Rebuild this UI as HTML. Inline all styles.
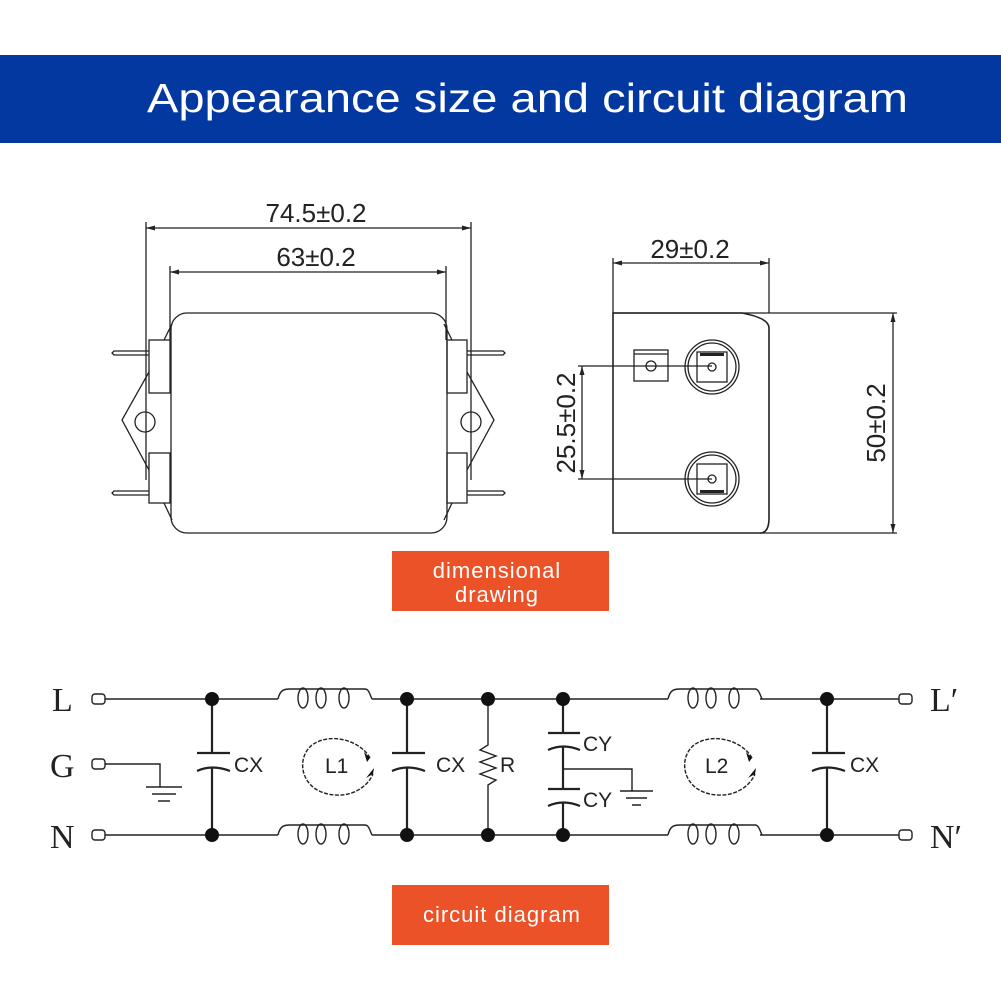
<!DOCTYPE html>
<html><head><meta charset="utf-8"><style>
html,body{margin:0;padding:0;background:#fff}
svg{display:block}
</style></head><body>
<svg width="1001" height="1001" viewBox="0 0 1001 1001" xmlns="http://www.w3.org/2000/svg">
<rect x="0" y="0" width="1001" height="1001" fill="#fff"/>
<rect x="0" y="55" width="1001" height="88" fill="#0238a0"/>
<text x="147" y="112" fill="#fff" font-family="Liberation Sans, sans-serif" font-size="41" textLength="761" lengthAdjust="spacingAndGlyphs">Appearance size and circuit diagram</text>

<g fill="none" stroke="#222" stroke-width="1.3">
<line x1="146" y1="222" x2="146" y2="480"/>
<line x1="471" y1="222" x2="471" y2="480"/>
<line x1="146" y1="228" x2="471" y2="228"/>
<line x1="170" y1="266" x2="170" y2="340"/>
<line x1="446" y1="266" x2="446" y2="340"/>
<line x1="170" y1="272" x2="446" y2="272"/>
<rect x="171" y="313" width="276" height="220" rx="16"/>
<path d="M172,324 L164,340 M149,372 L122,420 L149,470 M164,503 L172,520"/>
<path d="M444,324 L452,340 M467,372 L494,420 L467,470 M452,503 L444,520"/>
<rect x="149" y="340" width="21" height="53"/>
<rect x="149" y="453" width="21" height="50"/>
<rect x="447" y="340" width="20" height="53"/>
<rect x="447" y="453" width="20" height="50"/>
<path d="M149,351 L114,351 L112,353 L114,355 L149,355 M149,491 L114,491 L112,493 L114,495 L149,495"/>
<path d="M467,351 L503,351 L505,353 L503,355 L467,355 M467,491 L503,491 L505,493 L503,495 L467,495"/>
<circle cx="145" cy="422" r="10"/>
<circle cx="471" cy="422" r="10"/>
<line x1="613" y1="258" x2="613" y2="313"/>
<line x1="769" y1="258" x2="769" y2="313"/>
<line x1="613" y1="263" x2="769" y2="263"/>
<path d="M613,313 L613,533 L760,533 Q769,533 769,518 L769,328 Q769,318 742,313 Z" stroke-width="1.6"/>
<line x1="613" y1="313" x2="897" y2="313"/>
<line x1="760" y1="533" x2="897" y2="533"/>
<line x1="893" y1="313" x2="893" y2="533"/>
<rect x="634" y="350" width="34" height="31"/>
<line x1="634" y1="354" x2="668" y2="354"/>
<circle cx="651" cy="366" r="5"/>
<circle cx="712" cy="367" r="27"/><circle cx="712" cy="367" r="24"/>
<rect x="697" y="352" width="30" height="30"/><circle cx="712" cy="367" r="4"/>
<circle cx="712" cy="479" r="27"/><circle cx="712" cy="479" r="24"/>
<rect x="697" y="464" width="30" height="30"/><circle cx="712" cy="479" r="4"/>
<line x1="578" y1="366" x2="712" y2="366"/>
<line x1="578" y1="479" x2="712" y2="479"/>
<line x1="582" y1="366" x2="582" y2="479"/>
</g>
<g fill="#222">
<path d="M146,228 l9,-2.5 v5z M471,228 l-9,-2.5 v5z M170,272 l9,-2.5 v5z M446,272 l-9,-2.5 v5z"/>
<path d="M613,263 l9,-2.5 v5z M769,263 l-9,-2.5 v5z"/>
<path d="M893,313 l-2.5,9 h5z M893,533 l-2.5,-9 h5z M582,366 l-2.5,9 h5z M582,479 l-2.5,-9 h5z"/>
<rect x="700" y="353" width="24" height="3"/><rect x="700" y="490" width="24" height="3"/>
</g>
<g font-family="Liberation Sans, sans-serif" font-size="26" fill="#222" text-anchor="middle">
<text x="316" y="222">74.5±0.2</text>
<text x="316" y="266">63±0.2</text>
<text x="690" y="258">29±0.2</text>
<text transform="translate(885,423) rotate(-90)">50±0.2</text>
<text transform="translate(575,423) rotate(-90)">25.5±0.2</text>
</g>

<rect x="392" y="551" width="217" height="60" fill="#ec5228"/>
<text x="497" y="578" fill="#fff" font-family="Liberation Sans, sans-serif" font-size="22" text-anchor="middle" letter-spacing="1">dimensional</text>
<text x="497" y="602" fill="#fff" font-family="Liberation Sans, sans-serif" font-size="22" text-anchor="middle" letter-spacing="1">drawing</text>
<rect x="392" y="885" width="217" height="60" fill="#ec5228"/>
<text x="502" y="922" fill="#fff" font-family="Liberation Sans, sans-serif" font-size="22" text-anchor="middle" letter-spacing="1">circuit diagram</text>

<g font-family="Liberation Serif, serif" font-size="34" fill="#222">
<text x="52" y="711">L</text>
<text x="50" y="777">G</text>
<text x="50" y="848">N</text>
<text x="930" y="711">L′</text>
<text x="930" y="848">N′</text>
</g>
<g fill="none" stroke="#222" stroke-width="1.4">
<rect x="92" y="694" width="13" height="10" rx="3"/>
<rect x="92" y="759" width="13" height="10" rx="3"/>
<rect x="92" y="830" width="13" height="10" rx="3"/>
<rect x="899" y="694" width="13" height="10" rx="3"/>
<rect x="899" y="830" width="13" height="10" rx="3"/>
<path d="M105,699 H278 M372,699 H668 M760,699 H899"/>
<path d="M105,835 H278 M372,835 H668 M760,835 H899"/>
<path d="M105,764 H160 V787"/>
<path d="M146,787 H182 M152,794 H176 M158,801 H170"/>
<g id="ind">
<path d="M278,699 C280,690 284,689 290,689 H365 C369,689 370,695 372,699"/>
<ellipse cx="303" cy="698" rx="5" ry="10"/>
<ellipse cx="321" cy="698" rx="5" ry="10"/>
<ellipse cx="344" cy="698" rx="5" ry="10"/>
</g>
<use href="#ind" transform="translate(0,136)"/>
<use href="#ind" transform="translate(390,0)"/>
<use href="#ind" transform="translate(390,136)"/>
<path d="M212,699 V753 M197,753 H230 M197,771 Q212,764 230,771 M212,767 V835" stroke-width="2.2"/>
<path d="M407,699 V753 M392,753 H425 M392,771 Q407,764 425,771 M407,767 V835" stroke-width="2.2"/>
<path d="M827,699 V753 M812,753 H845 M812,771 Q827,764 845,771 M827,767 V835" stroke-width="2.2"/>
<path d="M488,699 V745 L480,750 L496,756 L480,762 L496,768 L480,774 L496,780 L488,785 V835"/>
<path d="M563,699 V733 M548,733 H580 M548,750 Q563,743 580,750 M563,746 V789 M548,789 H580 M548,806 Q563,799 580,806 M563,802 V835" stroke-width="2.2"/>
<path d="M563,769 H632 V791 M620,791 H653 M626,798 H647 M632,805 H641"/>
<path d="M370,758 C360,740 330,732 312,745 C296,758 300,788 328,794 C352,799 368,786 373,774" stroke-dasharray="4,1.5"/>
<path d="M752,758 C742,740 712,732 694,745 C678,758 682,788 710,794 C734,799 750,786 755,774" stroke-dasharray="4,1.5"/>
</g>
<g fill="#111">
<circle cx="212" cy="699" r="7"/><circle cx="212" cy="835" r="7"/>
<circle cx="407" cy="699" r="7"/><circle cx="407" cy="835" r="7"/>
<circle cx="488" cy="699" r="7"/><circle cx="488" cy="835" r="7"/>
<circle cx="563" cy="699" r="7"/><circle cx="563" cy="835" r="7"/>
<circle cx="827" cy="699" r="7"/><circle cx="827" cy="835" r="7"/>
<path d="M370,758 l-6,-6 l3,10z M373,774 l-7,4 l8,-10z M752,758 l-6,-6 l3,10z M755,774 l-7,4 l8,-10z"/>
</g>
<g font-family="Liberation Sans, sans-serif" font-size="21" fill="#222">
<text x="234" y="772">CX</text>
<text x="436" y="772">CX</text>
<text x="850" y="772">CX</text>
<text x="500" y="772">R</text>
<text x="583" y="751">CY</text>
<text x="583" y="807">CY</text>
<text x="325" y="773">L1</text>
<text x="705" y="773">L2</text>
</g>
</svg>
</body></html>
